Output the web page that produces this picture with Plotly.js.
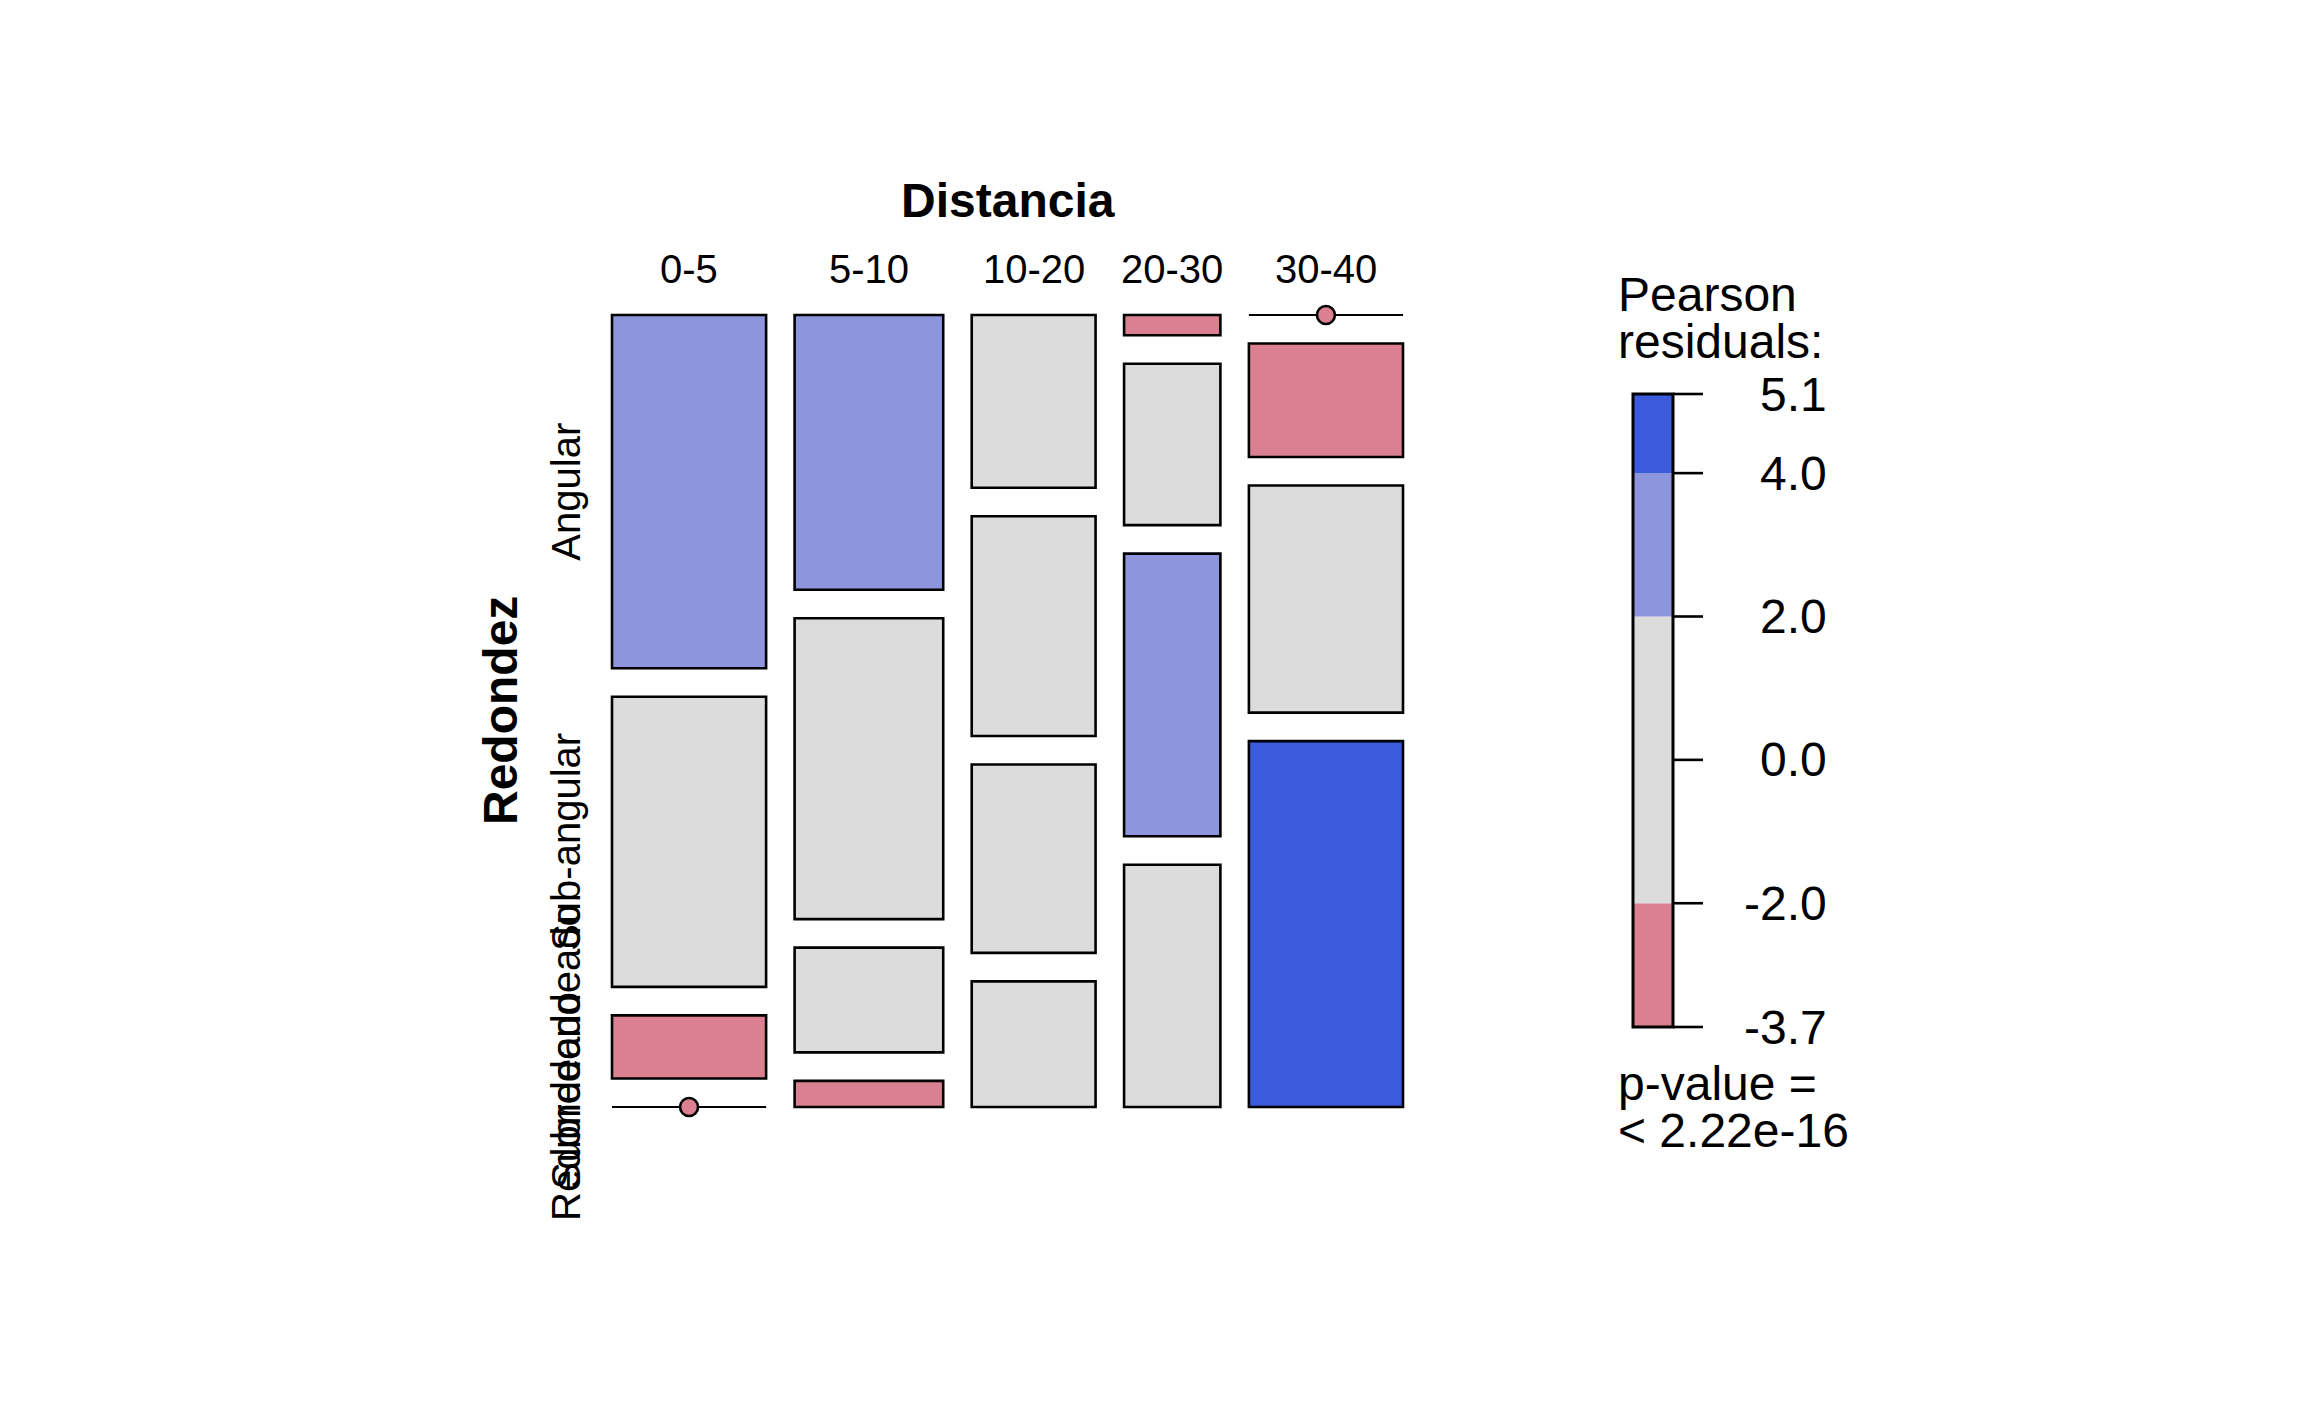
<!DOCTYPE html>
<html><head><meta charset="utf-8">
<script src="https://cdn.plot.ly/plotly-3.0.1.min.js"></script>
<style>html,body{margin:0;padding:0;background:#fff;}</style>
</head><body><div id="chart" style="width:2304px;height:1423px;"></div>
<script>
// ---------------- data ----------------
const distancia = ["0-5", "5-10", "10-20", "20-30", "30-40"];
const redondez = ["Angular", "Sub-angular", "Subredondeado", "Redondeado"];
// counts for each Distancia column, in Redondez order
const c_0_5   = [28, 23, 5, 0];
const c_5_10  = [21, 23, 8, 2];
const c_10_20 = [11, 14, 12, 8];
const c_20_30 = [1, 8, 14, 12];
const c_30_40 = [0, 9, 18, 29];
const shadeBreaks = [2, 4];          // |residual| thresholds
const pValueText = "< 2.22e-16";
const colNames = ["Distancia", "Redondez"];

// ---------------- computations ----------------
const counts = [c_0_5, c_5_10, c_10_20, c_20_30, c_30_40];
const nc = counts.length, nr = redondez.length;
const colTot = counts.map(c => c.reduce((a, b) => a + b, 0));
const rowTot = redondez.map((_, i) => counts.reduce((a, c) => a + c[i], 0));
const N = colTot.reduce((a, b) => a + b, 0);
const resid = counts.map((c, j) => c.map((v, i) => {
  const e = rowTot[i] * colTot[j] / N;
  return (v - e) / Math.sqrt(e);
}));
const allR = resid.flat();
const rmin = Math.min(...allR), rmax = Math.max(...allR);

const COL = {pos2: "#3C5ADC", pos1: "#8D96DC", neu: "#DCDCDC", neg1: "#DB8091", neg2: "#C8304A"};
function colorOf(r) {
  if (r > shadeBreaks[1]) return COL.pos2;
  if (r > shadeBreaks[0]) return COL.pos1;
  if (r < -shadeBreaks[1]) return COL.neg2;
  if (r < -shadeBreaks[0]) return COL.neg1;
  return COL.neu;
}

// ---------------- geometry (page layout) ----------------
const W = 2304, H = 1423;
const MX0 = 612, MX1 = 1403, MY0 = 315, MY1 = 1107, PAD = 14;
const GAPPX = 28.5;
const gx = GAPPX / (MX1 - MX0), gy = GAPPX / (MY1 - MY0);
const LX0 = 1633, LX1 = 1673, LTICK = 30, LY0 = 394, LY1 = 1027;
const FONT = "Liberation Sans, Arial, Helvetica, sans-serif";

const shapes = [], annotations = [];
const dotX = [], dotY = [], dotC = [];
const availW = 1 - (nc - 1) * gx, availH = 1 - (nr - 1) * gy;
let x = 0;
const colCenters = [];
const firstColCenters = [];
counts.forEach((c, j) => {
  const w = colTot[j] / N * availW;
  let ytop = 1;
  c.forEach((v, i) => {
    const h = v / colTot[j] * availH;
    const y0 = ytop - h;
    const col = colorOf(resid[j][i]);
    if (v > 0) {
      shapes.push({type: "rect", xref: "x", yref: "y", x0: x, x1: x + w, y0: y0, y1: ytop,
        fillcolor: col, line: {color: "#000", width: 2.6}, layer: "above"});
    } else {
      shapes.push({type: "line", xref: "x", yref: "y", x0: x, x1: x + w, y0: ytop, y1: ytop,
        line: {color: "#000", width: 2.2}, layer: "below"});
      dotX.push(x + w / 2); dotY.push(ytop); dotC.push(col);
    }
    if (j === 0) firstColCenters.push(ytop - h / 2);
    ytop = y0 - gy;
  });
  colCenters.push(x + w / 2);
  x += w + gx;
});

// column labels
distancia.forEach((d, j) => annotations.push({
  text: d, xref: "x", yref: "paper", x: colCenters[j], y: 1 - 269 / H,
  xanchor: "center", yanchor: "middle", showarrow: false,
  font: {family: FONT, size: 40, color: "#000"}
}));
// row labels
redondez.forEach((r, i) => annotations.push({
  text: r, xref: "paper", yref: "y", x: 566 / W, y: firstColCenters[i],
  xanchor: "center", yanchor: "middle", showarrow: false, textangle: -90,
  font: {family: FONT, size: 40, color: "#000"}
}));
// variable names
annotations.push({text: "<b>" + colNames[0] + "</b>", xref: "paper", yref: "paper",
  x: (MX0 + MX1) / 2 / W, y: 1 - 201 / H, xanchor: "center", yanchor: "middle",
  showarrow: false, font: {family: FONT, size: 48, color: "#000"}});
annotations.push({text: "<b>" + colNames[1] + "</b>", xref: "paper", yref: "paper",
  x: 500 / W, y: 1 - (MY0 + MY1) / 2 / H, xanchor: "center", yanchor: "middle", textangle: -90,
  showarrow: false, font: {family: FONT, size: 48, color: "#000"}});

// ---------------- legend ----------------
const bounds = [rmin];
[-shadeBreaks[1], -shadeBreaks[0], shadeBreaks[0], shadeBreaks[1]].forEach(b => {
  if (b > rmin && b < rmax) bounds.push(b);
});
bounds.push(rmax);
for (let k = 0; k < bounds.length - 1; k++) {
  const mid = (bounds[k] + bounds[k + 1]) / 2;
  shapes.push({type: "rect", xref: "x2", yref: "y2", x0: 0, x1: 1, y0: bounds[k], y1: bounds[k + 1],
    fillcolor: colorOf(mid), line: {width: 0}, layer: "above"});
}
shapes.push({type: "rect", xref: "x2", yref: "y2", x0: 0, x1: 1, y0: rmin, y1: rmax,
  fillcolor: "rgba(0,0,0,0)", line: {color: "#000", width: 3}, layer: "above"});
const tickVals = bounds.slice();
if (rmin < 0 && rmax > 0) tickVals.push(0);
tickVals.sort((a, b) => a - b);
tickVals.forEach(t => {
  shapes.push({type: "line", xref: "x2", yref: "y2", x0: 1, x1: 1 + LTICK / (LX1 - LX0), y0: t, y1: t,
    line: {color: "#000", width: 2.6}, layer: "above"});
  annotations.push({text: t.toFixed(1), xref: "paper", yref: "y2", x: 1829 / W, y: t,
    xanchor: "right", yanchor: "middle", showarrow: false,
    font: {family: FONT, size: 48, color: "#000"}});
});
[["Pearson", 295], ["residuals:", 341], ["p-value =", 1083], [pValueText, 1130]].forEach(([t, py]) =>
  annotations.push({text: t.replace("<", "&lt;"), xref: "paper", yref: "paper", x: 1616 / W, y: 1 - py / H,
    xanchor: "left", yanchor: "middle", showarrow: false,
    font: {family: FONT, size: 48, color: "#000"}}));

const lw = LX1 - LX0, lh = LY1 - LY0;
const ypadU = PAD * (rmax - rmin) / lh;

const traces = [{
  type: "scatter", mode: "markers", x: dotX, y: dotY, xaxis: "x", yaxis: "y",
  marker: {size: 18, color: dotC, line: {color: "#000", width: 2.6}},
  hoverinfo: "skip", showlegend: false, cliponaxis: false
}];

const hidden = {visible: false, showgrid: false, zeroline: false, fixedrange: true};
const layout = {
  width: W, height: H, margin: {l: 0, r: 0, t: 0, b: 0},
  paper_bgcolor: "#fff", plot_bgcolor: "rgba(0,0,0,0)", showlegend: false,
  xaxis: Object.assign({}, hidden, {domain: [(MX0 - PAD) / W, (MX1 + PAD) / W],
    range: [-PAD / (MX1 - MX0), 1 + PAD / (MX1 - MX0)]}),
  yaxis: Object.assign({}, hidden, {domain: [1 - (MY1 + PAD) / H, 1 - (MY0 - PAD) / H],
    range: [-PAD / (MY1 - MY0), 1 + PAD / (MY1 - MY0)]}),
  xaxis2: Object.assign({}, hidden, {anchor: "y2", domain: [(LX0 - PAD) / W, (LX1 + LTICK + PAD) / W],
    range: [-PAD / lw, (lw + LTICK + PAD) / lw]}),
  yaxis2: Object.assign({}, hidden, {anchor: "x2", domain: [1 - (LY1 + PAD) / H, 1 - (LY0 - PAD) / H],
    range: [rmin - ypadU, rmax + ypadU]}),
  shapes: shapes, annotations: annotations
};
Plotly.newPlot("chart", traces, layout, {staticPlot: true, displayModeBar: false});
</script></body></html>
